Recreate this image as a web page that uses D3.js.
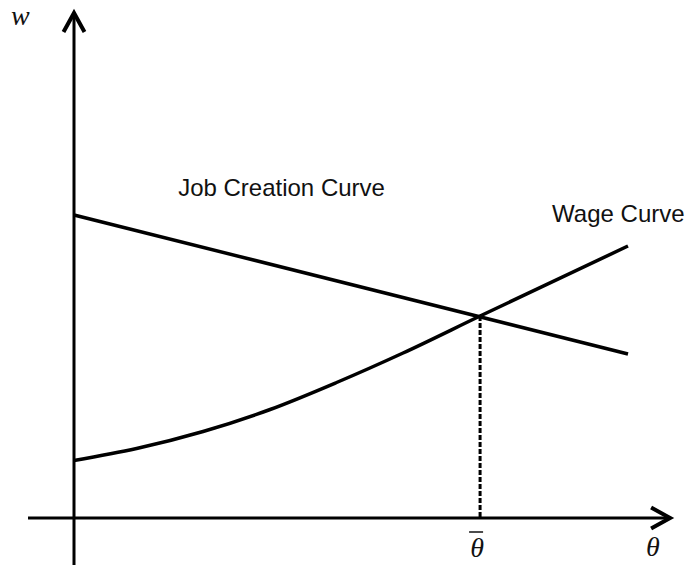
<!DOCTYPE html>
<html>
<head>
<meta charset="utf-8">
<script src="https://cdn.jsdelivr.net/npm/d3@7"></script>
<style>
  body { margin: 0; background: #fff; }
  .label { font-family: "Liberation Sans", Arial, sans-serif; font-size: 24px; fill: #111; }
  .math { font-family: "Liberation Serif", "DejaVu Serif", serif; font-style: italic; font-size: 28px; fill: #111; }
</style>
</head>
<body>
<svg></svg>
<script>
var width = 693,
    height = 574;

// theta values (abstract units) and the two curves
var wageTheta = [0, 1.13, 2.33, 3.54, 4.74, 5.94, 7.33, 10];
var wageW = [1.15, 1.39, 1.73, 2.17, 2.71, 3.30, 4.04, 5.44];

var jobTheta = [0, 10];
var jobW = [6.06, 3.28];

var thetaBar = 7.33,
    wBar = 4.04;

var axisTheta = [-0.83, 10.76];
var axisW = [-0.94, 10.1];

var labels = [
  {text: "Job Creation Curve", theta: 1.88, w: 6.44},
  {text: "Wage Curve", theta: 8.63, w: 5.92}
];

var x = d3.scaleLinear()
    .domain([0, 10])
    .range([74, 628]);

var y = d3.scaleLinear()
    .domain([0, 10])
    .range([518, 18]);

var svg = d3.select("svg")
    .attr("width", width)
    .attr("height", height);

var line = d3.line()
    .x(function(d) { return d[0]; })
    .y(function(d) { return d[1]; });

// axes
svg.append("path")
    .attr("d", line([[x(0), y(axisW[0])], [x(0), y(axisW[1]) + 2]]))
    .attr("stroke", "#000")
    .attr("stroke-width", 3)
    .attr("fill", "none");

svg.append("path")
    .attr("d", line([[x(axisTheta[0]), y(0)], [x(axisTheta[1]) - 2, y(0)]]))
    .attr("stroke", "#000")
    .attr("stroke-width", 3)
    .attr("fill", "none");

// arrow heads
var tipY = [x(0), y(axisW[1])],
    tipX = [x(axisTheta[1]), y(0)];

svg.append("path")
    .attr("d", line([[tipY[0] - 10.5, tipY[1] + 19], tipY, [tipY[0] + 10.5, tipY[1] + 19]]))
    .attr("stroke", "#000")
    .attr("stroke-width", 4)
    .attr("stroke-linejoin", "miter")
    .attr("fill", "none");

svg.append("path")
    .attr("d", line([[tipX[0] - 19, tipX[1] - 10.5], tipX, [tipX[0] - 19, tipX[1] + 10.5]]))
    .attr("stroke", "#000")
    .attr("stroke-width", 4)
    .attr("stroke-linejoin", "miter")
    .attr("fill", "none");

// dashed drop line
svg.append("line")
    .attr("x1", x(thetaBar))
    .attr("x2", x(thetaBar))
    .attr("y1", y(wBar))
    .attr("y2", y(0))
    .attr("stroke", "#000")
    .attr("stroke-width", 3)
    .attr("stroke-dasharray", "5,2");

// curves
var curve = d3.line()
    .x(function(d) { return x(d[0]); })
    .y(function(d) { return y(d[1]); })
    .curve(d3.curveMonotoneX);

svg.append("path")
    .datum(d3.zip(jobTheta, jobW))
    .attr("d", curve)
    .attr("stroke", "#000")
    .attr("stroke-width", 3.5)
    .attr("fill", "none");

svg.append("path")
    .datum(d3.zip(wageTheta, wageW))
    .attr("d", curve)
    .attr("stroke", "#000")
    .attr("stroke-width", 3.5)
    .attr("fill", "none");

// labels
svg.selectAll("text.label")
    .data(labels)
  .enter().append("text")
    .attr("class", "label")
    .attr("x", function(d) { return x(d.theta); })
    .attr("y", function(d) { return y(d.w); })
    .text(function(d) { return d.text; });

svg.append("text")
    .attr("class", "math")
    .attr("x", 11)
    .attr("y", 25)
    .text("w");

svg.append("text")
    .attr("class", "math")
    .attr("x", 646)
    .attr("y", 556)
    .text("θ");

svg.append("text")
    .attr("class", "math")
    .attr("x", x(thetaBar) - 3)
    .attr("y", 557)
    .attr("text-anchor", "middle")
    .text("θ");

svg.append("line")
    .attr("x1", x(thetaBar) - 11)
    .attr("x2", x(thetaBar) + 3)
    .attr("y1", 532)
    .attr("y2", 532)
    .attr("stroke", "#111")
    .attr("stroke-width", 1.5);
</script>
</body>
</html>
